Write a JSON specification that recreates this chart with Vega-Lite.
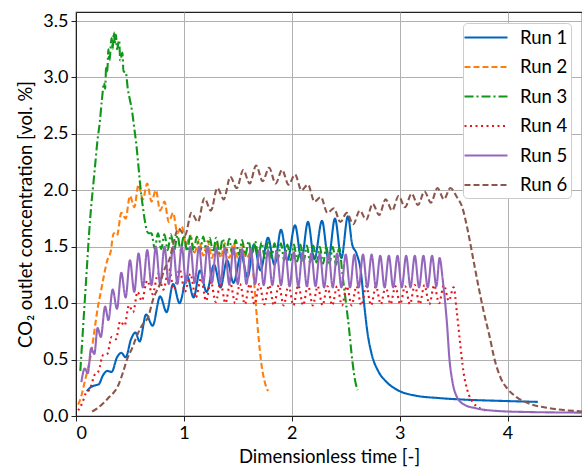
{
  "$schema": "https://vega.github.io/schema/vega-lite/v6.json",
  "width": 506,
  "height": 404,
  "autosize": {"type": "none"},
  "padding": {"left": 76, "top": 12, "right": 0, "bottom": 56},
  "background": "white",
  "config": {
    "font": "Lato",
    "view": {"stroke": "#222222", "strokeWidth": 1.2},
    "axis": {
      "labelFont": "Lato", "labelFontSize": 18, "labelColor": "#000000",
      "titleFont": "Lato", "titleFontSize": 18.5, "titleFontWeight": "normal", "titleColor": "#000000",
      "gridColor": "#b0b0b0", "gridWidth": 1, "gridOpacity": 1,
      "domainColor": "#222222", "tickColor": "#222222", "tickSize": 5, "labelPadding": 3
    },
    "legend": {
      "orient": "none", "legendX": 387, "legendY": 11,
      "fillColor": "white", "strokeColor": "#cccccc", "cornerRadius": 4, "padding": 3,
      "symbolType": "M-2.15,0H2.15", "symbolSize": 400, "symbolStrokeWidth": 2.2, "symbolOffset": 8.5,
      "labelFont": "Lato", "labelFontSize": 18.5, "labelColor": "#000000", "labelOffset": 22.5,
      "rowPadding": 8.5
    }
  },
  "data": {"values": [
    {"run":"Run 1","t":0.10,"c":0.22},{"run":"Run 1","t":0.13,"c":0.25},{"run":"Run 1","t":0.17,"c":0.27},{"run":"Run 1","t":0.21,"c":0.28},
    {"run":"Run 1","t":0.25,"c":0.36},{"run":"Run 1","t":0.29,"c":0.40},{"run":"Run 1","t":0.33,"c":0.39},{"run":"Run 1","t":0.38,"c":0.52},
    {"run":"Run 1","t":0.42,"c":0.56},{"run":"Run 1","t":0.46,"c":0.52},{"run":"Run 1","t":0.51,"c":0.68},{"run":"Run 1","t":0.55,"c":0.74},
    {"run":"Run 1","t":0.59,"c":0.66},{"run":"Run 1","t":0.65,"c":0.90},{"run":"Run 1","t":0.71,"c":0.80},{"run":"Run 1","t":0.78,"c":1.06},
    {"run":"Run 1","t":0.84,"c":0.92},{"run":"Run 1","t":0.90,"c":1.17},{"run":"Run 1","t":0.96,"c":1.00},{"run":"Run 1","t":1.03,"c":1.24},
    {"run":"Run 1","t":1.09,"c":1.05},{"run":"Run 1","t":1.15,"c":1.29},{"run":"Run 1","t":1.21,"c":1.10},{"run":"Run 1","t":1.28,"c":1.34},
    {"run":"Run 1","t":1.34,"c":1.14},{"run":"Run 1","t":1.40,"c":1.38},{"run":"Run 1","t":1.46,"c":1.18},{"run":"Run 1","t":1.53,"c":1.43},
    {"run":"Run 1","t":1.59,"c":1.23},{"run":"Run 1","t":1.65,"c":1.52},{"run":"Run 1","t":1.71,"c":1.29},{"run":"Run 1","t":1.78,"c":1.58},
    {"run":"Run 1","t":1.84,"c":1.34},{"run":"Run 1","t":1.90,"c":1.65},{"run":"Run 1","t":1.96,"c":1.38},{"run":"Run 1","t":2.03,"c":1.69},
    {"run":"Run 1","t":2.09,"c":1.39},{"run":"Run 1","t":2.15,"c":1.72},{"run":"Run 1","t":2.21,"c":1.39},{"run":"Run 1","t":2.28,"c":1.73},
    {"run":"Run 1","t":2.34,"c":1.39},{"run":"Run 1","t":2.40,"c":1.75},{"run":"Run 1","t":2.46,"c":1.40},{"run":"Run 1","t":2.52,"c":1.77},
    {"run":"Run 1","t":2.56,"c":1.52},{"run":"Run 1","t":2.60,"c":1.44},{"run":"Run 1","t":2.64,"c":1.28},{"run":"Run 1","t":2.67,"c":1.00},
    {"run":"Run 1","t":2.70,"c":0.75},{"run":"Run 1","t":2.74,"c":0.55},{"run":"Run 1","t":2.80,"c":0.40},{"run":"Run 1","t":2.88,"c":0.30},
    {"run":"Run 1","t":2.98,"c":0.23},{"run":"Run 1","t":3.15,"c":0.18},{"run":"Run 1","t":3.35,"c":0.16},{"run":"Run 1","t":3.60,"c":0.145},
    {"run":"Run 1","t":3.90,"c":0.135},{"run":"Run 1","t":4.28,"c":0.125},

    {"run":"Run 2","t":0.02,"c":0.10},{"run":"Run 2","t":0.05,"c":0.18},{"run":"Run 2","t":0.08,"c":0.30},{"run":"Run 2","t":0.11,"c":0.42},
    {"run":"Run 2","t":0.14,"c":0.55},{"run":"Run 2","t":0.17,"c":0.75},{"run":"Run 2","t":0.20,"c":0.95},{"run":"Run 2","t":0.23,"c":1.10},
    {"run":"Run 2","t":0.26,"c":1.25},{"run":"Run 2","t":0.29,"c":1.38},{"run":"Run 2","t":0.32,"c":1.45},{"run":"Run 2","t":0.35,"c":1.62},
    {"run":"Run 2","t":0.38,"c":1.60},{"run":"Run 2","t":0.42,"c":1.80},{"run":"Run 2","t":0.46,"c":1.75},{"run":"Run 2","t":0.50,"c":1.95},
    {"run":"Run 2","t":0.54,"c":1.85},{"run":"Run 2","t":0.58,"c":2.05},{"run":"Run 2","t":0.62,"c":1.92},{"run":"Run 2","t":0.66,"c":2.06},
    {"run":"Run 2","t":0.70,"c":1.90},{"run":"Run 2","t":0.74,"c":2.00},{"run":"Run 2","t":0.78,"c":1.82},{"run":"Run 2","t":0.82,"c":1.90},
    {"run":"Run 2","t":0.86,"c":1.72},{"run":"Run 2","t":0.90,"c":1.80},{"run":"Run 2","t":0.94,"c":1.62},{"run":"Run 2","t":0.98,"c":1.68},
    {"run":"Run 2","t":1.02,"c":1.52},{"run":"Run 2","t":1.06,"c":1.60},{"run":"Run 2","t":1.10,"c":1.45},{"run":"Run 2","t":1.14,"c":1.56},
    {"run":"Run 2","t":1.18,"c":1.42},{"run":"Run 2","t":1.22,"c":1.55},{"run":"Run 2","t":1.26,"c":1.40},{"run":"Run 2","t":1.30,"c":1.54},
    {"run":"Run 2","t":1.34,"c":1.40},{"run":"Run 2","t":1.38,"c":1.53},{"run":"Run 2","t":1.42,"c":1.40},{"run":"Run 2","t":1.46,"c":1.53},
    {"run":"Run 2","t":1.50,"c":1.40},{"run":"Run 2","t":1.54,"c":1.52},{"run":"Run 2","t":1.58,"c":1.40},{"run":"Run 2","t":1.62,"c":1.45},
    {"run":"Run 2","t":1.65,"c":1.20},{"run":"Run 2","t":1.67,"c":0.95},{"run":"Run 2","t":1.69,"c":0.72},{"run":"Run 2","t":1.72,"c":0.45},
    {"run":"Run 2","t":1.75,"c":0.30},{"run":"Run 2","t":1.78,"c":0.22},

    {"run":"Run 3","t":0.04,"c":0.40},{"run":"Run 3","t":0.06,"c":0.70},{"run":"Run 3","t":0.08,"c":1.00},{"run":"Run 3","t":0.10,"c":1.30},
    {"run":"Run 3","t":0.12,"c":1.60},{"run":"Run 3","t":0.14,"c":1.85},{"run":"Run 3","t":0.16,"c":2.05},{"run":"Run 3","t":0.18,"c":2.25},
    {"run":"Run 3","t":0.20,"c":2.45},{"run":"Run 3","t":0.22,"c":2.60},{"run":"Run 3","t":0.24,"c":2.80},{"run":"Run 3","t":0.26,"c":2.95},
    {"run":"Run 3","t":0.27,"c":2.90},{"run":"Run 3","t":0.28,"c":3.10},{"run":"Run 3","t":0.29,"c":3.05},{"run":"Run 3","t":0.30,"c":3.25},
    {"run":"Run 3","t":0.31,"c":3.15},{"run":"Run 3","t":0.33,"c":3.35},{"run":"Run 3","t":0.34,"c":3.25},{"run":"Run 3","t":0.35,"c":3.40},
    {"run":"Run 3","t":0.36,"c":3.30},{"run":"Run 3","t":0.37,"c":3.38},{"run":"Run 3","t":0.38,"c":3.25},{"run":"Run 3","t":0.40,"c":3.33},
    {"run":"Run 3","t":0.41,"c":3.15},{"run":"Run 3","t":0.43,"c":3.22},{"run":"Run 3","t":0.44,"c":3.05},{"run":"Run 3","t":0.46,"c":3.05},
    {"run":"Run 3","t":0.48,"c":2.90},{"run":"Run 3","t":0.50,"c":2.80},{"run":"Run 3","t":0.52,"c":2.70},{"run":"Run 3","t":0.54,"c":2.55},
    {"run":"Run 3","t":0.56,"c":2.40},{"run":"Run 3","t":0.58,"c":2.20},{"run":"Run 3","t":0.60,"c":2.00},{"run":"Run 3","t":0.62,"c":1.85},
    {"run":"Run 3","t":0.64,"c":1.72},{"run":"Run 3","t":0.67,"c":1.62},
    {"run":"Run 3","t":0.70,"c":1.62},{"run":"Run 3","t":0.73,"c":1.48},{"run":"Run 3","t":0.76,"c":1.62},{"run":"Run 3","t":0.79,"c":1.48},
    {"run":"Run 3","t":0.82,"c":1.61},{"run":"Run 3","t":0.85,"c":1.47},{"run":"Run 3","t":0.88,"c":1.61},{"run":"Run 3","t":0.91,"c":1.47},
    {"run":"Run 3","t":0.94,"c":1.60},{"run":"Run 3","t":0.97,"c":1.47},{"run":"Run 3","t":1.00,"c":1.60},{"run":"Run 3","t":1.03,"c":1.46},
    {"run":"Run 3","t":1.06,"c":1.60},{"run":"Run 3","t":1.09,"c":1.46},{"run":"Run 3","t":1.12,"c":1.59},{"run":"Run 3","t":1.15,"c":1.46},
    {"run":"Run 3","t":1.18,"c":1.59},{"run":"Run 3","t":1.21,"c":1.45},{"run":"Run 3","t":1.24,"c":1.58},{"run":"Run 3","t":1.27,"c":1.45},
    {"run":"Run 3","t":1.30,"c":1.58},{"run":"Run 3","t":1.33,"c":1.44},{"run":"Run 3","t":1.36,"c":1.57},{"run":"Run 3","t":1.39,"c":1.44},
    {"run":"Run 3","t":1.42,"c":1.57},{"run":"Run 3","t":1.45,"c":1.43},{"run":"Run 3","t":1.48,"c":1.56},{"run":"Run 3","t":1.51,"c":1.43},
    {"run":"Run 3","t":1.54,"c":1.56},{"run":"Run 3","t":1.57,"c":1.42},{"run":"Run 3","t":1.60,"c":1.55},{"run":"Run 3","t":1.63,"c":1.42},
    {"run":"Run 3","t":1.66,"c":1.55},{"run":"Run 3","t":1.69,"c":1.41},{"run":"Run 3","t":1.72,"c":1.54},{"run":"Run 3","t":1.75,"c":1.40},
    {"run":"Run 3","t":1.78,"c":1.54},{"run":"Run 3","t":1.81,"c":1.40},{"run":"Run 3","t":1.84,"c":1.53},{"run":"Run 3","t":1.87,"c":1.39},
    {"run":"Run 3","t":1.90,"c":1.53},{"run":"Run 3","t":1.93,"c":1.38},{"run":"Run 3","t":1.96,"c":1.52},{"run":"Run 3","t":1.99,"c":1.38},
    {"run":"Run 3","t":2.02,"c":1.52},{"run":"Run 3","t":2.05,"c":1.37},{"run":"Run 3","t":2.08,"c":1.52},{"run":"Run 3","t":2.11,"c":1.37},
    {"run":"Run 3","t":2.14,"c":1.51},{"run":"Run 3","t":2.17,"c":1.36},{"run":"Run 3","t":2.20,"c":1.51},{"run":"Run 3","t":2.23,"c":1.36},
    {"run":"Run 3","t":2.26,"c":1.50},{"run":"Run 3","t":2.29,"c":1.35},{"run":"Run 3","t":2.32,"c":1.50},{"run":"Run 3","t":2.35,"c":1.35},
    {"run":"Run 3","t":2.38,"c":1.50},{"run":"Run 3","t":2.41,"c":1.34},{"run":"Run 3","t":2.44,"c":1.49},{"run":"Run 3","t":2.47,"c":1.25},
    {"run":"Run 3","t":2.50,"c":1.02},{"run":"Run 3","t":2.53,"c":0.78},{"run":"Run 3","t":2.56,"c":0.50},{"run":"Run 3","t":2.59,"c":0.30},
    {"run":"Run 3","t":2.61,"c":0.23},

    {"run":"Run 4","t":0.02,"c":0.05},{"run":"Run 4","t":0.06,"c":0.12},{"run":"Run 4","t":0.09,"c":0.20},{"run":"Run 4","t":0.13,"c":0.24},
    {"run":"Run 4","t":0.17,"c":0.36},{"run":"Run 4","t":0.21,"c":0.40},{"run":"Run 4","t":0.25,"c":0.54},{"run":"Run 4","t":0.29,"c":0.55},
    {"run":"Run 4","t":0.33,"c":0.70},{"run":"Run 4","t":0.37,"c":0.68},{"run":"Run 4","t":0.41,"c":0.84},{"run":"Run 4","t":0.45,"c":0.80},
    {"run":"Run 4","t":0.49,"c":0.98},{"run":"Run 4","t":0.53,"c":0.92},{"run":"Run 4","t":0.57,"c":1.10},{"run":"Run 4","t":0.61,"c":1.02},
    {"run":"Run 4","t":0.66,"c":1.20},{"run":"Run 4","t":0.71,"c":1.08},{"run":"Run 4","t":0.76,"c":1.26},{"run":"Run 4","t":0.81,"c":1.12},
    {"run":"Run 4","t":0.86,"c":1.30},{"run":"Run 4","t":0.91,"c":1.12},{"run":"Run 4","t":0.96,"c":1.30},{"run":"Run 4","t":1.01,"c":1.10},
    {"run":"Run 4","t":1.06,"c":1.26},{"run":"Run 4","t":1.11,"c":1.05},{"run":"Run 4","t":1.16,"c":1.22},{"run":"Run 4","t":1.205,"c":1.02},
    {"run":"Run 4","t":1.25,"c":1.19},{"run":"Run 4","t":1.295,"c":1.01},{"run":"Run 4","t":1.34,"c":1.18},{"run":"Run 4","t":1.385,"c":1.00},
    {"run":"Run 4","t":1.43,"c":1.18},{"run":"Run 4","t":1.475,"c":1.00},{"run":"Run 4","t":1.52,"c":1.17},{"run":"Run 4","t":1.565,"c":0.99},
    {"run":"Run 4","t":1.61,"c":1.17},{"run":"Run 4","t":1.655,"c":0.99},{"run":"Run 4","t":1.70,"c":1.17},{"run":"Run 4","t":1.745,"c":0.99},
    {"run":"Run 4","t":1.79,"c":1.16},{"run":"Run 4","t":1.835,"c":0.98},{"run":"Run 4","t":1.88,"c":1.16},{"run":"Run 4","t":1.925,"c":0.98},
    {"run":"Run 4","t":1.97,"c":1.16},{"run":"Run 4","t":2.015,"c":0.98},{"run":"Run 4","t":2.06,"c":1.16},{"run":"Run 4","t":2.105,"c":0.98},
    {"run":"Run 4","t":2.15,"c":1.16},{"run":"Run 4","t":2.195,"c":0.98},{"run":"Run 4","t":2.24,"c":1.15},{"run":"Run 4","t":2.285,"c":0.98},
    {"run":"Run 4","t":2.33,"c":1.15},{"run":"Run 4","t":2.375,"c":0.98},{"run":"Run 4","t":2.42,"c":1.15},{"run":"Run 4","t":2.465,"c":0.98},
    {"run":"Run 4","t":2.51,"c":1.15},{"run":"Run 4","t":2.555,"c":0.98},{"run":"Run 4","t":2.60,"c":1.15},{"run":"Run 4","t":2.645,"c":0.98},
    {"run":"Run 4","t":2.69,"c":1.15},{"run":"Run 4","t":2.735,"c":0.98},{"run":"Run 4","t":2.78,"c":1.15},{"run":"Run 4","t":2.825,"c":0.99},
    {"run":"Run 4","t":2.87,"c":1.15},{"run":"Run 4","t":2.915,"c":0.99},{"run":"Run 4","t":2.96,"c":1.15},{"run":"Run 4","t":3.005,"c":0.99},
    {"run":"Run 4","t":3.05,"c":1.15},{"run":"Run 4","t":3.095,"c":0.99},{"run":"Run 4","t":3.14,"c":1.16},{"run":"Run 4","t":3.185,"c":0.99},
    {"run":"Run 4","t":3.23,"c":1.16},{"run":"Run 4","t":3.275,"c":0.99},{"run":"Run 4","t":3.32,"c":1.16},{"run":"Run 4","t":3.365,"c":1.00},
    {"run":"Run 4","t":3.41,"c":1.16},{"run":"Run 4","t":3.455,"c":1.02},{"run":"Run 4","t":3.50,"c":1.14},{"run":"Run 4","t":3.53,"c":0.92},
    {"run":"Run 4","t":3.56,"c":0.65},{"run":"Run 4","t":3.59,"c":0.40},{"run":"Run 4","t":3.63,"c":0.22},{"run":"Run 4","t":3.68,"c":0.12},
    {"run":"Run 4","t":3.74,"c":0.07},{"run":"Run 4","t":3.80,"c":0.05},

    {"run":"Run 5","t":0.05,"c":0.30},{"run":"Run 5","t":0.08,"c":0.42},{"run":"Run 5","t":0.11,"c":0.38},{"run":"Run 5","t":0.14,"c":0.60},
    {"run":"Run 5","t":0.17,"c":0.55},{"run":"Run 5","t":0.20,"c":0.78},{"run":"Run 5","t":0.23,"c":0.70},{"run":"Run 5","t":0.27,"c":0.97},
    {"run":"Run 5","t":0.30,"c":0.85},{"run":"Run 5","t":0.34,"c":1.12},{"run":"Run 5","t":0.38,"c":0.95},{"run":"Run 5","t":0.42,"c":1.27},
    {"run":"Run 5","t":0.46,"c":1.05},{"run":"Run 5","t":0.50,"c":1.38},{"run":"Run 5","t":0.54,"c":1.10},{"run":"Run 5","t":0.58,"c":1.44},
    {"run":"Run 5","t":0.62,"c":1.14},{"run":"Run 5","t":0.66,"c":1.47},{"run":"Run 5","t":0.70,"c":1.16},{"run":"Run 5","t":0.74,"c":1.50},
    {"run":"Run 5","t":0.78,"c":1.17},{"run":"Run 5","t":0.82,"c":1.50},{"run":"Run 5","t":0.86,"c":1.17},{"run":"Run 5","t":0.90,"c":1.50},
    {"run":"Run 5","t":0.94,"c":1.17},{"run":"Run 5","t":0.98,"c":1.50},{"run":"Run 5","t":1.02,"c":1.18},{"run":"Run 5","t":1.06,"c":1.50},
    {"run":"Run 5","t":1.10,"c":1.18},{"run":"Run 5","t":1.14,"c":1.50},{"run":"Run 5","t":1.18,"c":1.18},{"run":"Run 5","t":1.22,"c":1.50},
    {"run":"Run 5","t":1.26,"c":1.18},{"run":"Run 5","t":1.30,"c":1.49},{"run":"Run 5","t":1.34,"c":1.18},{"run":"Run 5","t":1.38,"c":1.49},
    {"run":"Run 5","t":1.42,"c":1.17},{"run":"Run 5","t":1.46,"c":1.49},{"run":"Run 5","t":1.50,"c":1.17},{"run":"Run 5","t":1.54,"c":1.48},
    {"run":"Run 5","t":1.58,"c":1.17},{"run":"Run 5","t":1.62,"c":1.48},{"run":"Run 5","t":1.66,"c":1.17},{"run":"Run 5","t":1.70,"c":1.47},
    {"run":"Run 5","t":1.74,"c":1.16},{"run":"Run 5","t":1.78,"c":1.47},{"run":"Run 5","t":1.82,"c":1.16},{"run":"Run 5","t":1.86,"c":1.46},
    {"run":"Run 5","t":1.90,"c":1.16},{"run":"Run 5","t":1.94,"c":1.46},{"run":"Run 5","t":1.98,"c":1.15},{"run":"Run 5","t":2.02,"c":1.45},
    {"run":"Run 5","t":2.06,"c":1.15},{"run":"Run 5","t":2.10,"c":1.45},{"run":"Run 5","t":2.14,"c":1.15},{"run":"Run 5","t":2.18,"c":1.44},
    {"run":"Run 5","t":2.22,"c":1.15},{"run":"Run 5","t":2.26,"c":1.44},{"run":"Run 5","t":2.30,"c":1.14},{"run":"Run 5","t":2.34,"c":1.44},
    {"run":"Run 5","t":2.38,"c":1.14},{"run":"Run 5","t":2.42,"c":1.44},{"run":"Run 5","t":2.46,"c":1.14},{"run":"Run 5","t":2.50,"c":1.43},
    {"run":"Run 5","t":2.54,"c":1.14},{"run":"Run 5","t":2.58,"c":1.43},{"run":"Run 5","t":2.62,"c":1.14},{"run":"Run 5","t":2.66,"c":1.43},
    {"run":"Run 5","t":2.70,"c":1.14},{"run":"Run 5","t":2.74,"c":1.43},{"run":"Run 5","t":2.78,"c":1.14},{"run":"Run 5","t":2.82,"c":1.42},
    {"run":"Run 5","t":2.86,"c":1.14},{"run":"Run 5","t":2.90,"c":1.42},{"run":"Run 5","t":2.94,"c":1.14},{"run":"Run 5","t":2.98,"c":1.42},
    {"run":"Run 5","t":3.02,"c":1.14},{"run":"Run 5","t":3.06,"c":1.42},{"run":"Run 5","t":3.10,"c":1.14},{"run":"Run 5","t":3.14,"c":1.42},
    {"run":"Run 5","t":3.18,"c":1.14},{"run":"Run 5","t":3.22,"c":1.42},{"run":"Run 5","t":3.26,"c":1.14},{"run":"Run 5","t":3.30,"c":1.42},
    {"run":"Run 5","t":3.34,"c":1.15},{"run":"Run 5","t":3.37,"c":1.40},{"run":"Run 5","t":3.40,"c":1.20},{"run":"Run 5","t":3.42,"c":1.02},
    {"run":"Run 5","t":3.44,"c":0.80},{"run":"Run 5","t":3.46,"c":0.52},{"run":"Run 5","t":3.49,"c":0.30},{"run":"Run 5","t":3.53,"c":0.17},
    {"run":"Run 5","t":3.60,"c":0.10},{"run":"Run 5","t":3.70,"c":0.07},{"run":"Run 5","t":3.90,"c":0.045},{"run":"Run 5","t":4.20,"c":0.035},
    {"run":"Run 5","t":4.69,"c":0.03},

    {"run":"Run 6","t":0.15,"c":0.04},{"run":"Run 6","t":0.20,"c":0.07},{"run":"Run 6","t":0.26,"c":0.12},{"run":"Run 6","t":0.31,"c":0.17},
    {"run":"Run 6","t":0.36,"c":0.22},{"run":"Run 6","t":0.40,"c":0.29},{"run":"Run 6","t":0.44,"c":0.40},{"run":"Run 6","t":0.48,"c":0.52},
    {"run":"Run 6","t":0.52,"c":0.60},{"run":"Run 6","t":0.56,"c":0.70},{"run":"Run 6","t":0.61,"c":0.80},{"run":"Run 6","t":0.67,"c":0.88},
    {"run":"Run 6","t":0.72,"c":1.05},{"run":"Run 6","t":0.77,"c":1.15},{"run":"Run 6","t":0.82,"c":1.30},{"run":"Run 6","t":0.87,"c":1.40},
    {"run":"Run 6","t":0.90,"c":1.52},{"run":"Run 6","t":0.95,"c":1.66},{"run":"Run 6","t":1.01,"c":1.60},{"run":"Run 6","t":1.07,"c":1.80},
    {"run":"Run 6","t":1.13,"c":1.72},{"run":"Run 6","t":1.19,"c":1.93},{"run":"Run 6","t":1.25,"c":1.82},{"run":"Run 6","t":1.31,"c":2.02},
    {"run":"Run 6","t":1.37,"c":1.92},{"run":"Run 6","t":1.43,"c":2.12},{"run":"Run 6","t":1.49,"c":2.02},{"run":"Run 6","t":1.55,"c":2.18},
    {"run":"Run 6","t":1.61,"c":2.06},{"run":"Run 6","t":1.67,"c":2.22},{"run":"Run 6","t":1.73,"c":2.08},{"run":"Run 6","t":1.79,"c":2.20},
    {"run":"Run 6","t":1.85,"c":2.06},{"run":"Run 6","t":1.91,"c":2.18},{"run":"Run 6","t":1.97,"c":2.05},{"run":"Run 6","t":2.03,"c":2.14},
    {"run":"Run 6","t":2.09,"c":2.00},{"run":"Run 6","t":2.15,"c":2.05},{"run":"Run 6","t":2.21,"c":1.90},{"run":"Run 6","t":2.27,"c":1.94},
    {"run":"Run 6","t":2.33,"c":1.80},{"run":"Run 6","t":2.39,"c":1.84},{"run":"Run 6","t":2.45,"c":1.72},{"run":"Run 6","t":2.51,"c":1.80},
    {"run":"Run 6","t":2.57,"c":1.70},{"run":"Run 6","t":2.63,"c":1.82},{"run":"Run 6","t":2.69,"c":1.74},{"run":"Run 6","t":2.75,"c":1.88},
    {"run":"Run 6","t":2.81,"c":1.78},{"run":"Run 6","t":2.87,"c":1.92},{"run":"Run 6","t":2.93,"c":1.82},{"run":"Run 6","t":2.99,"c":1.95},
    {"run":"Run 6","t":3.05,"c":1.85},{"run":"Run 6","t":3.11,"c":1.97},{"run":"Run 6","t":3.17,"c":1.87},{"run":"Run 6","t":3.23,"c":1.99},
    {"run":"Run 6","t":3.29,"c":1.89},{"run":"Run 6","t":3.35,"c":2.02},{"run":"Run 6","t":3.41,"c":1.92},{"run":"Run 6","t":3.47,"c":2.02},
    {"run":"Run 6","t":3.53,"c":1.94},{"run":"Run 6","t":3.58,"c":1.85},{"run":"Run 6","t":3.63,"c":1.65},{"run":"Run 6","t":3.68,"c":1.40},
    {"run":"Run 6","t":3.73,"c":1.15},{"run":"Run 6","t":3.78,"c":0.92},{"run":"Run 6","t":3.83,"c":0.72},{"run":"Run 6","t":3.88,"c":0.50},
    {"run":"Run 6","t":3.94,"c":0.33},{"run":"Run 6","t":4.00,"c":0.24},{"run":"Run 6","t":4.08,"c":0.17},{"run":"Run 6","t":4.20,"c":0.11},
    {"run":"Run 6","t":4.35,"c":0.075},{"run":"Run 6","t":4.50,"c":0.055},{"run":"Run 6","t":4.69,"c":0.04}
  ]},
  "mark": {"type": "line", "strokeWidth": 2.1, "interpolate": "monotone", "clip": true},
  "encoding": {
    "x": {"field": "t", "type": "quantitative", "title": "Dimensionless time [-]",
      "scale": {"domain": [0, 4.69], "nice": false},
      "axis": {"values": [0, 1, 2, 3, 4], "format": "d", "titlePadding": 5}},
    "y": {"field": "c", "type": "quantitative", "title": "CO₂ outlet concentration [vol. %]",
      "scale": {"domain": [0, 3.58], "nice": false},
      "axis": {"values": [0, 0.5, 1, 1.5, 2, 2.5, 3, 3.5], "format": ".1f", "titlePadding": 7}},
    "color": {"field": "run", "type": "nominal", "title": null,
      "scale": {"domain": ["Run 1","Run 2","Run 3","Run 4","Run 5","Run 6"],
        "range": ["#0065bd","#ff7f0e","#109618","#e8141c","#9467bd","#8c564b"]}},
    "strokeDash": {"field": "run", "type": "nominal", "title": null,
      "scale": {"domain": ["Run 1","Run 2","Run 3","Run 4","Run 5","Run 6"],
        "range": [[1,0],[6,3],[9,3,2,3],[2,3.5],[1,0],[6,3]]}}
  }
}
